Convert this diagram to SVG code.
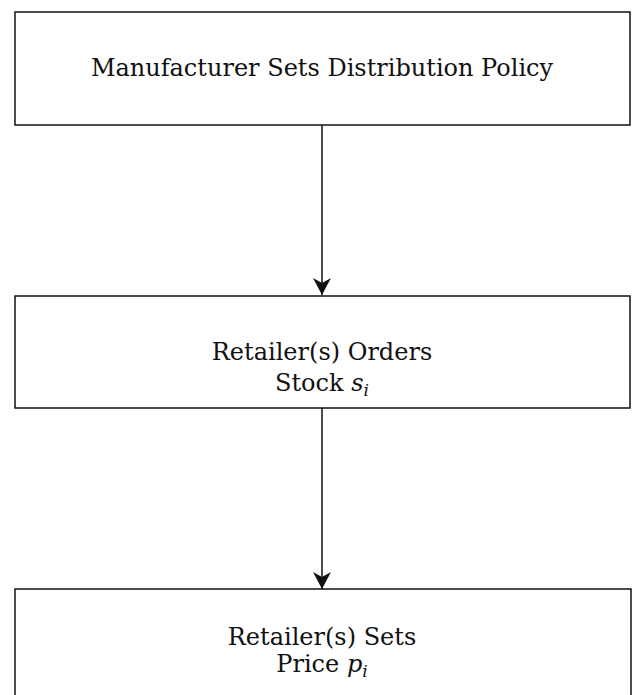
<svg xmlns="http://www.w3.org/2000/svg" width="632" height="695" viewBox="0 0 632 695">
<style>
.box{fill:#fff;stroke:#111;stroke-width:1.5}
.lbl{font-family:"DejaVu Serif","Liberation Serif",serif;font-size:24px;fill:#111;text-anchor:middle}
.it{font-style:italic}
.conn{stroke:#111;stroke-width:1.5;fill:none}
</style>
<defs>
<marker id="arr" markerWidth="18" markerHeight="18" refX="17" refY="9" orient="auto" markerUnits="userSpaceOnUse">
<path d="M0,0 L17,9 L0,18 L5,9 Z" fill="#111"/>
</marker>
</defs>
<rect width="632" height="695" fill="#fff"/>
<g id="connectors">
<line class="conn" x1="322" y1="125" x2="322" y2="295" marker-end="url(#arr)"/>
<line class="conn" x1="322" y1="408" x2="322" y2="589" marker-end="url(#arr)"/>
</g>
<g id="node-manufacturer">
<rect class="box" x="15" y="12" width="615" height="113"/>
<text class="lbl" x="322" y="76">Manufacturer Sets Distribution Policy</text>
</g>
<g id="node-orders">
<rect class="box" x="15" y="296" width="615" height="112"/>
<text class="lbl" x="322" y="360">Retailer(s) Orders</text>
<text class="lbl" x="322" y="391">Stock <tspan class="it">s</tspan><tspan class="it" font-size="17" dy="5">i</tspan></text>
</g>
<g id="node-price">
<path class="box" d="M15,700 L15,589 L631,589 L631,700"/>
<text class="lbl" x="322" y="645">Retailer(s) Sets</text>
<text class="lbl" x="322" y="672">Price <tspan class="it">p</tspan><tspan class="it" font-size="17" dy="5">i</tspan></text>
</g>
</svg>
